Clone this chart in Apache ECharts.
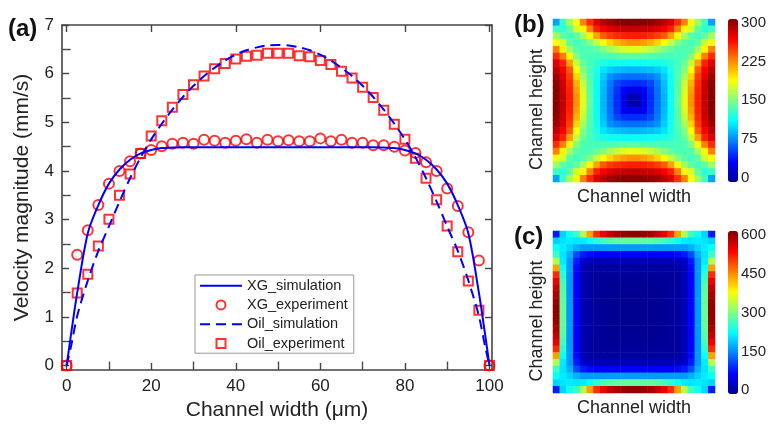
<!DOCTYPE html>
<html><head><meta charset="utf-8">
<script src="https://cdn.jsdelivr.net/npm/echarts@6/dist/echarts.min.js"></script>
<style>html,body{margin:0;padding:0;background:#fff}#c{width:769px;height:426px}</style>
</head><body><div id="c"></div>
<script>
// ---------- panel (a) data ----------
const expX = [0,2.5,5,7.5,10,12.5,15,17.5,20,22.5,25,27.5,30,32.5,35,37.5,40,42.5,45,47.5,50,52.5,55,57.5,60,62.5,65,67.5,70,72.5,75,77.5,80,82.5,85,87.5,90,92.5,95,97.5,100];
const xgExpY = [0,2.28,2.78,3.30,3.74,4.00,4.20,4.36,4.43,4.51,4.56,4.58,4.56,4.64,4.62,4.58,4.62,4.65,4.58,4.64,4.61,4.63,4.61,4.61,4.67,4.61,4.64,4.58,4.58,4.53,4.53,4.50,4.42,4.37,4.18,4.00,3.64,3.28,2.74,2.16,0];
const oilExpY = [0,1.49,1.88,2.46,3.01,3.50,3.94,4.36,4.72,5.03,5.31,5.57,5.77,5.95,6.10,6.21,6.30,6.36,6.38,6.42,6.42,6.42,6.37,6.35,6.27,6.19,6.05,5.91,5.72,5.51,5.25,4.96,4.65,4.26,3.85,3.41,2.87,2.34,1.74,1.14,0];
const xgSimX = [0,1,2.5,5,7.5,10,12.5,15,17.5,20,22.5,25,27.5,30,40,50,60,70,72.5,75,77.5,80,82.5,85,87.5,90,92.5,95,97.5,99,100];
const xgSimY = [0,0.62,1.5,2.72,3.3,3.74,4.03,4.23,4.36,4.43,4.47,4.48,4.49,4.49,4.49,4.49,4.49,4.49,4.49,4.48,4.47,4.43,4.36,4.23,4.03,3.74,3.3,2.72,1.5,0.62,0];
const oilSimX = [0,1,2.5,5,7.5,10,12.5,15,17.5,20,22.5,25,27.5,30,32.5,35,37.5,40,42.5,45,47.5,50,52.5,55,57.5,60,62.5,65,67.5,70,72.5,75,77.5,80,82.5,85,87.5,90,92.5,95,97.5,99,100];
const oilSimY = [0,0.38,1.02,1.75,2.36,2.86,3.37,3.85,4.28,4.65,4.97,5.26,5.52,5.75,5.95,6.12,6.27,6.39,6.48,6.54,6.58,6.59,6.58,6.54,6.48,6.39,6.27,6.12,5.95,5.75,5.52,5.26,4.97,4.65,4.28,3.85,3.37,2.86,2.36,1.75,1.02,0.38,0];
const xMajor = [0,20,40,60,80,100];
const xMinor = [10,30,50,70,90];
const yMajor = [0,1,2,3,4,5,6,7];
const yMinor = [0.5,1.5,2.5,3.5,4.5,5.5,6.5];
const seriesNames = ['XG_simulation','XG_experiment','Oil_simulation','Oil_experiment'];

// ---------- panels (b),(c): one quadrant (top wall -> centre rows, left wall -> centre cols) ----------
const quadB = [
 [85,130,160,185,225,250,272,283,290,295,297,298],
 [130,125,140,175,190,225,253,265,272,277,279,280],
 [160,140,132,140,160,190,215,236,245,250,253,255],
 [185,175,140,132,138,150,170,188,200,210,216,220],
 [225,190,160,138,135,135,142,150,160,170,176,180],
 [250,225,190,150,135,133,132,133,135,137,139,140],
 [272,253,215,170,142,132,125,120,118,117,116,115],
 [283,265,236,188,150,133,120,105,98,94,92,90],
 [290,272,245,200,160,135,118,98,80,74,71,70],
 [295,277,250,210,170,137,117,94,74,58,52,50],
 [297,279,253,216,176,139,116,92,71,52,35,30],
 [298,280,255,220,180,140,115,90,70,50,30,10]
];
const quadC = [
 [90,200,230,260,330,430,500,535,560,575,585,590],
 [200,210,215,210,215,230,250,265,275,280,282,285],
 [230,215,200,180,165,165,165,165,165,165,165,165],
 [260,210,180,120,90,80,75,75,75,75,75,75],
 [330,215,165,90,40,30,25,25,25,25,25,25],
 [430,230,165,80,30,15,12,12,12,12,12,12],
 [500,250,165,75,25,12,8,8,8,8,8,8],
 [535,265,165,75,25,12,8,5,5,5,5,5],
 [560,275,165,75,25,12,8,5,3,3,3,3],
 [575,280,165,75,25,12,8,5,3,2,2,2],
 [585,282,165,75,25,12,8,5,3,2,1,1],
 [590,285,165,75,25,12,8,5,3,2,1,0]
];
const cbTicksB = [0,75,150,225,300];
const cbTicksC = [0,150,300,450,600];
const jet = ['#00008f','#0000ff','#0080ff','#00ffff','#80ff80','#ffff00','#ff8000','#ff0000','#800000'];

// ---------- helpers ----------
const FONT = 'Liberation Sans, Arial, sans-serif';
const TXT = '#222';
const AX = '#444';
const zip = (xs, ys) => xs.map((x, i) => [x, ys[i]]);
function mirror(q) {
  const n = q.length, N = 2 * n, out = [];
  for (let yi = 0; yi < N; yi++) for (let xi = 0; xi < N; xi++) {
    const r = yi < n ? yi : N - 1 - yi, c = xi < n ? xi : N - 1 - xi;
    out.push([xi, N - 1 - yi, q[r][c]]);
  }
  return out;
}
const cats = Array.from({length: 2 * quadB.length}, (_, i) => String(i));

function tickAxis(pos, vals, len, labels, extra) {
  return Object.assign({
    type: 'value', gridIndex: 0, position: pos,
    axisLine: {show: true, onZero: false, lineStyle: {color: AX, width: 1.6}},
    axisTick: {show: true, inside: true, length: len, customValues: vals, lineStyle: {color: AX, width: 1.4}},
    axisLabel: labels ? {show: true, customValues: vals, fontSize: 17, color: TXT, fontFamily: FONT, margin: 8} : {show: false},
    splitLine: {show: false}
  }, extra);
}
const xr = {min: -1.1, max: 100.6};
const yr = {min: -0.09, max: 7};
const heightName = {fontSize: 18, color: TXT, fontFamily: FONT, padding: [0, 18, 0, 0]};

const option = {
  animation: false,
  backgroundColor: '#fff',
  textStyle: {fontFamily: FONT},
  title: [
    {text: '(a)', left: 8, top: 17, padding: 0, textStyle: {fontSize: 24, fontWeight: 'bold', color: '#111', fontFamily: FONT}},
    {text: '(b)', left: 514, top: 13, padding: 0, textStyle: {fontSize: 24, fontWeight: 'bold', color: '#111', fontFamily: FONT}},
    {text: '(c)', left: 514, top: 225, padding: 0, textStyle: {fontSize: 24, fontWeight: 'bold', color: '#111', fontFamily: FONT}}
  ],
  grid: [
    {left: 62, top: 25, width: 430, height: 345},
    {left: 553, top: 19, width: 162, height: 163},
    {left: 553, top: 231, width: 162, height: 162},
    {left: 728, top: 22.7, width: 10, height: 155.3},
    {left: 728, top: 234.7, width: 10, height: 155.6}
  ],
  xAxis: [
    tickAxis('bottom', xMajor, 7, true, Object.assign({name: 'Channel width (\u03bcm)', nameLocation: 'middle', nameGap: 27,
      nameTextStyle: {fontSize: 21, color: TXT, fontFamily: FONT}}, xr)),
    tickAxis('bottom', xMinor, 4, false, Object.assign({axisLine: {show: false}}, xr)),
    tickAxis('top', xMajor, 7, false, xr),
    tickAxis('top', xMinor, 4, false, Object.assign({axisLine: {show: false}}, xr)),
    {type: 'category', gridIndex: 1, data: cats, axisLine: {show: false}, axisTick: {show: false}, axisLabel: {show: false},
      name: 'Channel width', nameLocation: 'middle', nameGap: 6, nameTextStyle: {fontSize: 18, color: TXT, fontFamily: FONT, verticalAlign: 'top'}},
    {type: 'category', gridIndex: 2, data: cats, axisLine: {show: false}, axisTick: {show: false}, axisLabel: {show: false},
      name: 'Channel width', nameLocation: 'middle', nameGap: 6, nameTextStyle: {fontSize: 18, color: TXT, fontFamily: FONT, verticalAlign: 'top'}},
    {type: 'value', gridIndex: 3, show: false, min: 0, max: 1},
    {type: 'value', gridIndex: 4, show: false, min: 0, max: 1}
  ],
  yAxis: [
    tickAxis('left', yMajor, 7, true, Object.assign({gridIndex: 0, name: 'Velocity magnitude (mm/s)', nameLocation: 'middle', nameGap: 29,
      nameTextStyle: {fontSize: 21, color: TXT, fontFamily: FONT}}, yr)),
    tickAxis('left', yMinor, 4, false, Object.assign({axisLine: {show: false}}, yr)),
    tickAxis('right', yMajor, 7, false, yr),
    tickAxis('right', yMinor, 4, false, Object.assign({axisLine: {show: false}}, yr)),
    {type: 'category', gridIndex: 1, data: cats, axisLine: {show: false}, axisTick: {show: false}, axisLabel: {show: false},
      name: 'Channel height', nameLocation: 'middle', nameGap: 7, nameTextStyle: heightName},
    {type: 'category', gridIndex: 2, data: cats, axisLine: {show: false}, axisTick: {show: false}, axisLabel: {show: false},
      name: 'Channel height', nameLocation: 'middle', nameGap: 7, nameTextStyle: heightName},
    {type: 'value', gridIndex: 3, position: 'right', min: 0, max: 300, axisLine: {show: false}, axisTick: {show: false}, splitLine: {show: false},
      axisLabel: {customValues: cbTicksB, fontSize: 15, color: TXT, fontFamily: FONT, margin: 5}},
    {type: 'value', gridIndex: 4, position: 'right', min: 0, max: 600, axisLine: {show: false}, axisTick: {show: false}, splitLine: {show: false},
      axisLabel: {customValues: cbTicksC, fontSize: 15, color: TXT, fontFamily: FONT, margin: 5}}
  ],
  legend: {
    orient: 'vertical', left: 195, top: 275, padding: [1, 6, 0, 4], itemGap: 0, itemWidth: 42, itemHeight: 9,
    symbolKeepAspect: true,
    borderColor: '#999', borderWidth: 1, backgroundColor: '#fff',
    textStyle: {fontSize: 14.5, color: TXT, lineHeight: 19.3, fontFamily: FONT},
    data: [
      {name: seriesNames[0], itemStyle: {opacity: 0}},
      {name: seriesNames[1]},
      {name: seriesNames[2], itemStyle: {opacity: 0}},
      {name: seriesNames[3], icon: 'path://M0,0H10V10H0Z'}
    ]
  },
  visualMap: [
    {type: 'continuous', seriesIndex: 4, min: 0, max: 300, calculable: false, inRange: {color: jet},
      left: 728, top: 19, itemWidth: 10, itemHeight: 163, padding: 0, text: null, hoverLink: false},
    {type: 'continuous', seriesIndex: 5, min: 0, max: 600, calculable: false, inRange: {color: jet},
      left: 728, top: 231, itemWidth: 10, itemHeight: 163, padding: 0, text: null, hoverLink: false}
  ],
  series: [
    {name: seriesNames[0], type: 'line', xAxisIndex: 0, yAxisIndex: 0, data: zip(xgSimX, xgSimY), symbol: 'none', smooth: 0.3,
      color: '#0000ff', lineStyle: {color: '#0000ff', width: 2}, z: 3},
    {name: seriesNames[1], type: 'scatter', xAxisIndex: 0, yAxisIndex: 0, data: zip(expX, xgExpY), symbol: 'circle', symbolSize: 10,
      itemStyle: {color: 'rgba(255,255,255,0)', borderColor: '#ff0000', borderWidth: 2}, z: 2},
    {name: seriesNames[2], type: 'line', xAxisIndex: 0, yAxisIndex: 0, data: zip(oilSimX, oilSimY), symbol: 'none', smooth: 0.3,
      color: '#0000ff', lineStyle: {color: '#0000ff', width: 2, type: [10, 6]}, z: 3},
    {name: seriesNames[3], type: 'scatter', xAxisIndex: 0, yAxisIndex: 0, data: zip(expX, oilExpY), symbol: 'rect', symbolSize: 9,
      itemStyle: {color: 'rgba(255,255,255,0)', borderColor: '#ff0000', borderWidth: 2}, z: 2},
    {type: 'heatmap', xAxisIndex: 4, yAxisIndex: 4, data: mirror(quadB), emphasis: {disabled: true}, itemStyle: {borderWidth: 0}},
    {type: 'heatmap', xAxisIndex: 5, yAxisIndex: 5, data: mirror(quadC), emphasis: {disabled: true}, itemStyle: {borderWidth: 0}}
  ]
};
echarts.init(document.getElementById('c'), null, {renderer: 'canvas'}).setOption(option);
</script>
</body></html>
